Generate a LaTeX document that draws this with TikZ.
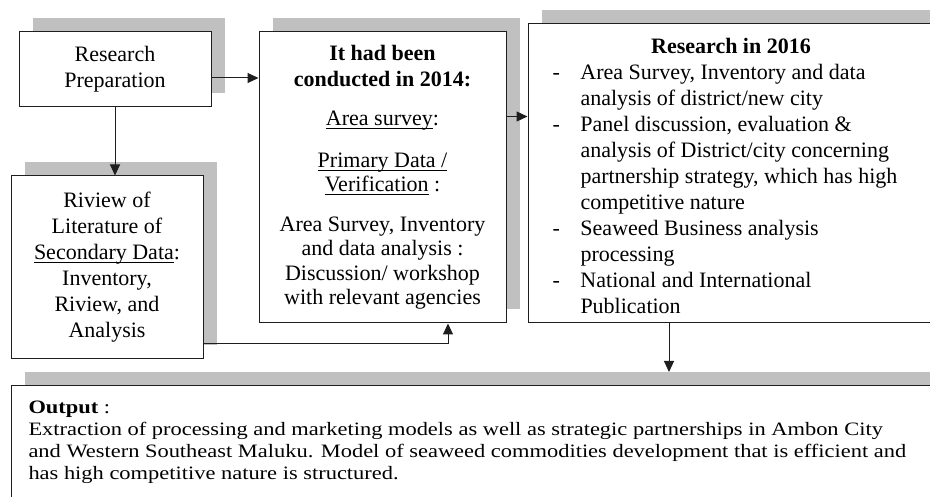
\documentclass[tikz,border=0pt]{standalone}
\usepackage{fontspec}
\setmainfont{Liberation Serif}
\usetikzlibrary{arrows.meta,calc,shadows}
\definecolor{shadowgray}{RGB}{192,192,192}
\definecolor{linegray}{RGB}{30,30,30}
\newcommand{\undl}[1]{\setbox0\hbox{#1}\rlap{\rule[-3.5pt]{\wd0}{0.9pt}}\box0}

\tikzset{
  box/.style={draw=linegray, line width=1pt, fill=white, inner sep=0pt,
    font=\fontsize{22}{26}\selectfont,
    drop shadow={shadow xshift=13.5pt, shadow yshift=13.5pt, fill=shadowgray, opacity=1}},
  arr/.style={-{Triangle[length=11pt,width=10pt]}, line width=1pt, draw=linegray},
}

\begin{document}
\begin{tikzpicture}[x=1pt,y=-1pt]
    \useasboundingbox (0,0) rectangle (930,497);
    \clip (0,0) rectangle (930,497);

    % Boxes of the first stage
    \node[box, align=center, minimum width=192pt, minimum height=75pt] (prep) at (115,69.5)
      {Research\\Preparation};
    \node[box, align=center, minimum width=192pt, minimum height=183pt] (review) at (107,267.5)
      {Riview of\\Literature of\\\undl{Secondary Data}:\\Inventory,\\Riview, and\\Analysis};

    % Work done in 2014
    \node[box, align=center, minimum width=247pt, minimum height=291pt] (done) at (382.5,177.5)
      {\textbf{It had been}\\\textbf{conducted in 2014:}\\[13pt]
       \undl{Area survey}:\\[16pt]
       \undl{Primary Data /}\\[-2pt]\undl{Verification}\ :\\[14pt]
       Area Survey, Inventory\\[-2pt]and data analysis :\\[-1pt]
       Discussion/ workshop\\[-2pt]with relevant agencies};

    % Research in 2016, list of tasks
    \node[box, minimum width=406pt, minimum height=299pt] (plan) at (731,173.5)
      {\begin{tabular}{@{}p{28pt}@{}p{329pt}@{}}
        \multicolumn{2}{c}{\rule{0pt}{27pt}\textbf{Research in 2016}}\\
        - & Area Survey, Inventory and data\\
          & analysis of district/new city\\
        - & Panel discussion, evaluation \&\\
          & analysis of District/city concerning\\
          & partnership strategy, which has high\\
          & competitive nature\\
        - & Seaweed Business analysis\\
          & processing\\
        - & National and International\\
          & Publication
       \end{tabular}};

    % Output box, runs off the right and lower edge
    \node[box, anchor=north west, minimum width=923pt, inner xsep=17pt, inner ysep=15pt,
      text depth=110pt, font=\fontsize{22}{25.6}\selectfont] (output) at (11,385)
      {\scalebox{1.02}[0.86]{\parbox{880pt}{\raggedright
       \textbf{Output} :\\
       Extraction of processing and marketing models as well as strategic partnerships in Ambon City\\
       and Western Southeast Maluku. Model of seaweed commodities development that is efficient and\\
       has high competitive nature is structured.}}};

    % Connectors
    \draw[arr] (prep.south) -- (prep.south |- review.north);
    \draw[arr] ([yshift=-8.5pt]prep.east) -- ([yshift=-8.5pt]prep.east -| done.west);
    \draw[arr] ([yshift=-85pt]done.north east) -- ([yshift=-85pt]done.north east -| plan.west);
    \draw[arr] ([yshift=16pt]review.south east) -| ([xshift=65.5pt]done.south);
    \draw[arr, shorten >=13pt] ([xshift=-62pt]plan.south) -- ([xshift=-62pt]plan.south |- output.north);
\end{tikzpicture}
\end{document}
